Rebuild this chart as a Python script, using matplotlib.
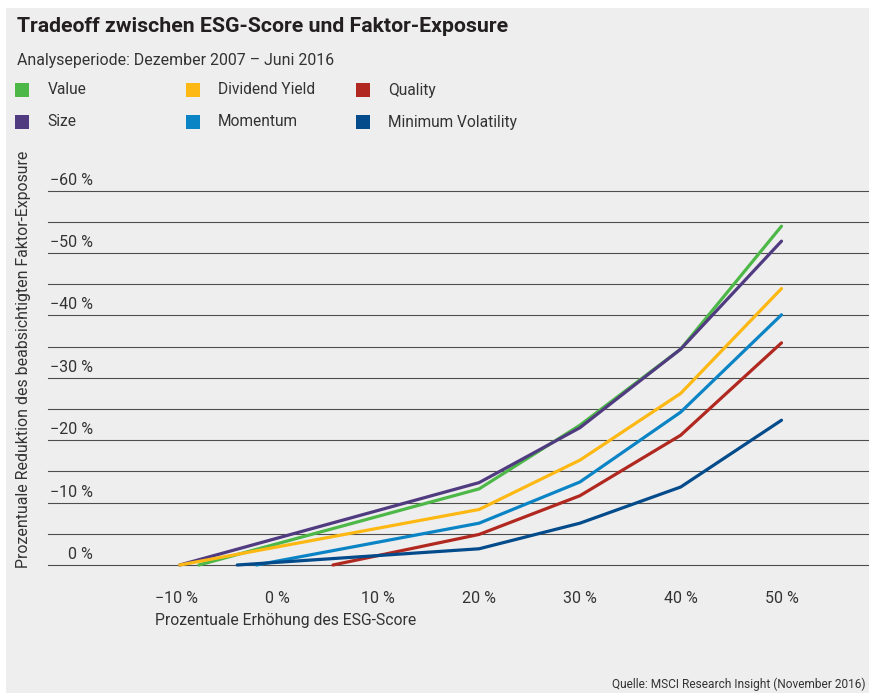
import matplotlib
matplotlib.use("Agg")
import matplotlib.pyplot as plt
from matplotlib.patches import Rectangle
from matplotlib import font_manager
import matplotlib.transforms as mtransforms

# ---------------- data ----------------
series_names = ["Value", "Size", "Dividend Yield", "Momentum", "Quality", "Minimum Volatility"]
series_colors = ["#4db848", "#503b80", "#fdb813", "#0b84c6", "#b0281f", "#034b8b"]

x_value = [-7.8, 20, 30, 40, 50]
y_value = [0, -12.2, -22.4, -34.6, -54.3]

x_size = [-9.7, 20, 30, 40, 50]
y_size = [0, -13.2, -22.0, -34.6, -51.9]

x_divyield = [-9.7, 20, 30, 40, 50]
y_divyield = [0, -8.9, -16.8, -27.5, -44.3]

x_momentum = [-2.1, 20, 30, 40, 50]
y_momentum = [0, -6.7, -13.3, -24.5, -40.1]

x_quality = [5.5, 20, 30, 40, 50]
y_quality = [0, -4.9, -11.1, -20.8, -35.6]

x_minvol = [-4.0, 20, 30, 40, 50]
y_minvol = [0, -2.6, -6.7, -12.5, -23.2]

x_ticks = [-10, 0, 10, 20, 30, 40, 50]
y_ticks = [0, -10, -20, -30, -40, -50, -60]

title = "Tradeoff zwischen ESG-Score und Faktor-Exposure"
subtitle = "Analyseperiode: Dezember 2007 \u2013 Juni 2016"
xlabel = "Prozentuale Erhöhung des ESG-Score"
ylabel = "Prozentuale Reduktion des beabsichtigten Faktor-Exposure"
source = "Quelle: MSCI Research Insight (November 2016)"

# ---------------- fonts ----------------
available = {f.name for f in font_manager.fontManager.ttflist}
fam = [f for f in ["Liberation Sans Narrow", "Roboto", "DejaVu Sans"] if f in available]
plt.rcParams["font.family"] = fam
txt_color = "#333333"

W, H = 869, 693
fig = plt.figure(figsize=(W / 100, H / 100), dpi=100, facecolor="white")

# grey panel
fig.add_artist(Rectangle((6 / W, 0), 1 - 6 / W, 1 - 8 / H, transform=fig.transFigure,
                         facecolor="#eeeeee", edgecolor="none", zorder=0))

# axes
px_left, px_right, px_top, px_bottom = 48, 869, 190.6, 565
ax = fig.add_axes([px_left / W, 1 - px_bottom / H, (px_right - px_left) / W, (px_bottom - px_top) / H])
ax.set_facecolor("none")
x0_px, px_per_unit = 277.5, 10.08
ax.set_xlim((px_left - x0_px) / px_per_unit, (px_right - x0_px) / px_per_unit)
ax.set_ylim(0, -60)
for s in ax.spines.values():
    s.set_visible(False)
ax.set_yticks(list(range(0, -61, -5)))
ax.set_yticklabels([])
ax.tick_params(axis="both", length=0)
ax.grid(axis="y", color="#4d4d4d", linewidth=0.8)
for gl in ax.yaxis.get_gridlines():
    gl.set_clip_on(False)
ax.set_xticks(x_ticks)
ax.set_xticklabels([("\u2212" if v < 0 else "") + f"{abs(v)} %" for v in x_ticks],
                   fontsize=11.5, color=txt_color)
ax.tick_params(axis="x", pad=19)

# y tick labels above the gridlines
trans = mtransforms.blended_transform_factory(fig.transFigure, ax.transData)
offset = mtransforms.ScaledTranslation(0, 3 / 100, fig.dpi_scale_trans)
for v in y_ticks:
    lab = ("\u2212" if v < 0 else "") + f"{abs(v)} %"
    ax.text(93 / W, v, lab, transform=trans + offset, ha="right", va="bottom",
            fontsize=11.5, color=txt_color)

xs = [x_value, x_size, x_divyield, x_momentum, x_quality, x_minvol]
ys = [y_value, y_size, y_divyield, y_momentum, y_quality, y_minvol]
for name, c, xv, yv in zip(series_names, series_colors, xs, ys):
    ax.plot(xv, yv, color=c, linewidth=2.3, solid_capstyle="round", label=name, clip_on=False)

# texts
fig.text(17 / W, 1 - 27 / H, title, fontsize=15.3, fontweight="bold", color="#231f20",
         ha="left", va="center")
fig.text(17 / W, 1 - 60 / H, subtitle, fontsize=11.4, color=txt_color, ha="left", va="center")
fig.text(155 / W, 1 - 621 / H, xlabel, fontsize=11.3, color=txt_color, ha="left", va="center")
fig.text(24 / W, 1 - 359 / H, ylabel, fontsize=11.4, color=txt_color, ha="center", va="center",
         rotation=90)
fig.text(866 / W, 1 - 684 / H, source, fontsize=8.6, color=txt_color, ha="right", va="center")

# legend (manual, 3 columns x 2 rows)
col_sq_x = [15, 186, 356]
col_tx_x = [47.5, 218, 388]
row_y = [90, 122]
for i, (name, c) in enumerate(zip(series_names, series_colors)):
    col, row = i // 2, i % 2
    fig.add_artist(Rectangle((col_sq_x[col] / W, 1 - (row_y[row] + 7) / H), 14 / W, 14 / H,
                             transform=fig.transFigure, facecolor=c, edgecolor="none"))
    fig.text(col_tx_x[col] / W, 1 - row_y[row] / H, name, fontsize=11.2, color=txt_color,
             ha="left", va="center")

fig.savefig("out.png", dpi=100, facecolor="white")
